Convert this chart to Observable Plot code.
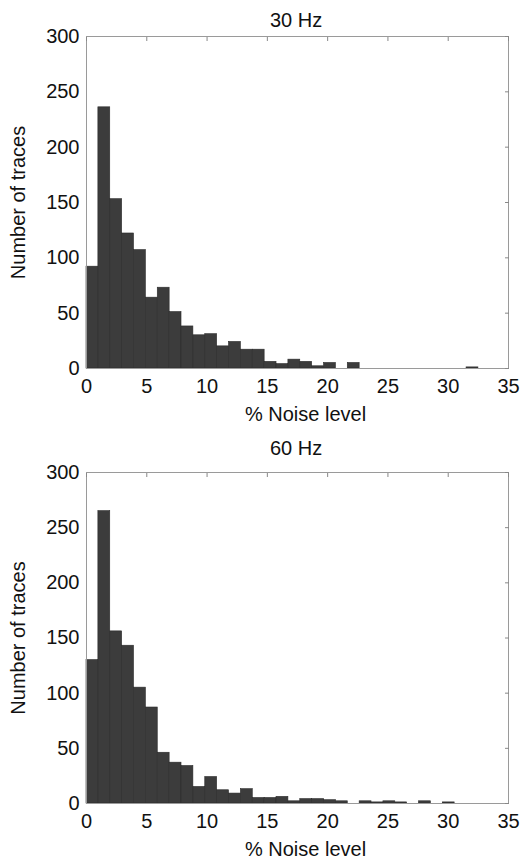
<!DOCTYPE html>
<html>
<head>
<meta charset="utf-8">
<script src="https://cdn.jsdelivr.net/npm/d3@7"></script>
<script src="https://cdn.jsdelivr.net/npm/@observablehq/plot@0.6"></script>
<style>
  html, body { margin: 0; padding: 0; background: #fff; }
  #wrap { position: relative; width: 521px; height: 859px; font-family: "Liberation Sans", Arial, sans-serif; }
  .title { position: absolute; font-size: 20px; line-height: 20px; color: #111; white-space: nowrap; }
  .panel { position: absolute; left: 0; }
</style>
</head>
<body>
<div id="wrap"></div>
<script>
// Panel titles
const titles = ["30 Hz", "60 Hz"];
// Histogram bin width (% noise level)
const binWidth = 0.985;
// Counts per bin, 30 Hz
const counts30 = [92, 236, 153, 122, 107, 64, 73, 51, 38, 30, 31, 20, 24, 17, 17, 6, 4, 8, 6, 2, 5, 0, 5, 0, 0, 0, 0, 0, 0, 0, 0, 0, 1];
// Counts per bin, 60 Hz
const counts60 = [130, 265, 156, 143, 105, 87, 46, 37, 34, 15, 24, 12, 9, 13, 5, 5, 6, 2, 4, 4, 3, 2, 0, 2, 1, 2, 1, 0, 2, 0, 1];
// Axis ticks and labels
const xTicks = [0, 5, 10, 15, 20, 25, 30, 35];
const yTicks = [0, 50, 100, 150, 200, 250, 300];
const xLabel = "% Noise level";
const yLabel = "Number of traces";

function toBins(counts) {
  return counts.map((c, i) => ({x1: i * binWidth, x2: (i + 1) * binWidth, count: c}));
}

function panel(counts, {top, height, marginTop, marginBottom}) {
  const data = toBins(counts).filter(d => d.count > 0);
  const chart = Plot.plot({
    width: 521,
    height,
    marginLeft: 86,
    marginRight: 13,
    marginTop,
    marginBottom,
    style: {fontFamily: "'Liberation Sans', Arial, sans-serif", fontSize: "20px", color: "#111", background: "transparent"},
    x: {domain: [0, 35]},
    y: {domain: [0, 300]},
    marks: [
      Plot.rectY(data, {x1: "x1", x2: "x2", y1: 0, y2: "count", fill: "#3c3c3c", stroke: "#2b2b2b", strokeWidth: 0.6}),
      Plot.frame({stroke: "#9a9a9a", strokeWidth: 1}),
      Plot.axisX(xTicks, {anchor: "bottom", tickSize: 0, tickPadding: 10, fontSize: 20, label: null}),
      Plot.text([xLabel], {text: d => d, frameAnchor: "bottom", lineAnchor: "middle", dx: 8, dy: 46, fontSize: 20, fill: "#111"}),
      Plot.axisX(xTicks, {anchor: "top", tickSize: -4, stroke: "#888", text: null, label: null}),
      Plot.axisY(yTicks, {anchor: "left", tickSize: 0, tickPadding: 7, fontSize: 20, label: yLabel, labelAnchor: "center", labelOffset: 76, labelArrow: "none"}),
      Plot.axisY(yTicks, {anchor: "right", tickSize: -4, stroke: "#888", text: null, label: null})
    ]
  });
  chart.classList.add("panel");
  chart.style.top = top + "px";
  return chart;
}

const wrap = document.getElementById("wrap");
const t1 = document.createElement("div");
t1.className = "title"; t1.textContent = titles[0];
t1.style.top = "10px"; t1.style.left = "270px";
const t2 = document.createElement("div");
t2.className = "title"; t2.textContent = titles[1];
t2.style.top = "438px"; t2.style.left = "270px";

wrap.appendChild(panel(counts30, {top: 0, height: 430, marginTop: 36, marginBottom: 62}));
wrap.appendChild(panel(counts60, {top: 430, height: 429, marginTop: 42, marginBottom: 56}));
wrap.appendChild(t1);
wrap.appendChild(t2);
</script>
</body>
</html>
